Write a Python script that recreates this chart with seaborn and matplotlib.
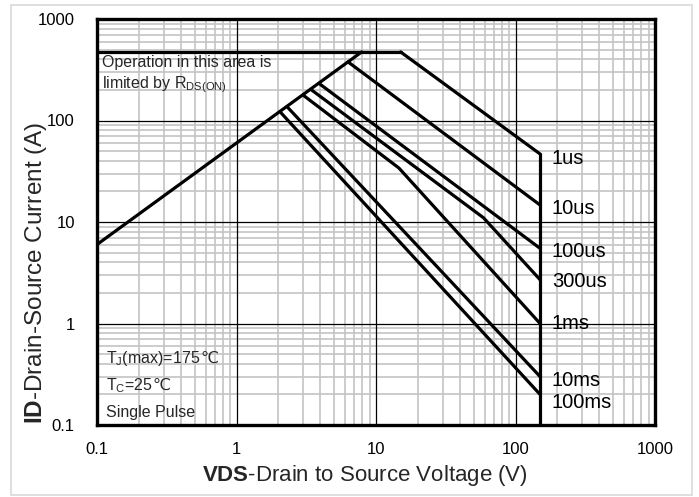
import matplotlib
matplotlib.use("Agg")
import matplotlib.pyplot as plt
import numpy as np
import pandas as pd
import seaborn as sns
from matplotlib.ticker import LogLocator, NullFormatter, FixedLocator, FixedFormatter
from matplotlib.patches import Rectangle

# ---------------- data ----------------
v_rds = [0.1, 7.9]          # RDS(on) limit line
i_rds = [6.0, 474]
v_cap = [0.1, 15]           # package current limit
i_cap = [474, 474]
v_1us = [15, 150]
i_1us = [474, 46.8]
v_10us = [6.3, 150]
i_10us = [378, 14.7]
v_100us = [3.9, 150]
i_100us = [232, 5.5]
v_300us = [3.4, 59, 150]
i_300us = [203, 11.0, 2.7]
v_1ms = [3.0, 14.6, 150]
i_1ms = [178, 34, 1.0]
v_10ms = [2.3, 150]
i_10ms = [137, 0.30]
v_100ms = [2.05, 150]
i_100ms = [122, 0.20]
v_max = [150, 150]          # VDS max
i_max = [46.8, 0.1]

pulse_labels = ["1us", "10us", "100us", "300us", "1ms", "10ms", "100ms"]
x_ticks = [0.1, 1, 10, 100, 1000]
x_tick_labels = ["0.1", "1", "10", "100", "1000"]
y_ticks = [0.1, 1, 10, 100, 1000]
y_tick_labels = ["0.1", "1", "10", "100", "1000"]

curves = {
    "rds": (v_rds, i_rds),
    "cap": (v_cap, i_cap),
    "1us": (v_1us, i_1us),
    "10us": (v_10us, i_10us),
    "100us": (v_100us, i_100us),
    "300us": (v_300us, i_300us),
    "1ms": (v_1ms, i_1ms),
    "10ms": (v_10ms, i_10ms),
    "100ms": (v_100ms, i_100ms),
    "vmax": (v_max, i_max),
}
rows = []
for name, (vs, is_) in curves.items():
    for k, (v, i) in enumerate(zip(vs, is_)):
        rows.append({"curve": name, "order": k, "V": v, "I": i})
df = pd.DataFrame(rows)

# ---------------- style ----------------
sns.set_theme(style="white")
plt.rcParams["font.family"] = ["Liberation Sans", "DejaVu Sans"]
plt.rcParams["mathtext.fontset"] = "custom"
plt.rcParams["mathtext.rm"] = "Liberation Sans"
plt.rcParams["mathtext.it"] = "Liberation Sans:italic"
plt.rcParams["mathtext.bf"] = "Liberation Sans:bold"

W, H = 699, 497
fig = plt.figure(figsize=(W / 100, H / 100), dpi=100)
fig.patch.set_facecolor("white")
ax = fig.add_axes([97 / W, 1 - 425 / H, (655 - 97) / W, (425 - 19) / H])

# figure border
fig.patches.append(Rectangle((11 / W, 1 - 495 / H), (692 - 11) / W, (495 - 5) / H,
                             transform=fig.transFigure, fill=False,
                             edgecolor="#d9d9d9", lw=1.2))

sns.lineplot(data=df, x="V", y="I", units="curve", estimator=None, sort=False,
             color="black", lw=2.3, ax=ax, legend=False, zorder=3)

ax.set_xscale("log")
ax.set_yscale("log")
ax.set_xlim(0.1, 1000)
ax.set_ylim(0.1, 1000)

ax.xaxis.set_major_locator(FixedLocator(x_ticks))
ax.xaxis.set_major_formatter(FixedFormatter(x_tick_labels))
ax.yaxis.set_major_locator(FixedLocator(y_ticks))
ax.yaxis.set_major_formatter(FixedFormatter(y_tick_labels))
ax.xaxis.set_minor_locator(LogLocator(base=10, subs=np.arange(2, 10), numticks=20))
ax.yaxis.set_minor_locator(LogLocator(base=10, subs=np.arange(2, 10), numticks=20))
ax.xaxis.set_minor_formatter(NullFormatter())
ax.yaxis.set_minor_formatter(NullFormatter())

# light minor grid below, black decade grid on top of it
ax.set_axisbelow(True)
ax.grid(which="minor", color="#c4c4c4", lw=1.2)
ax.grid(which="major", visible=False)
for t in x_ticks[1:-1]:
    ax.axvline(t, color="black", lw=0.9, zorder=1)
for t in y_ticks[1:-1]:
    ax.axhline(t, color="black", lw=0.9, zorder=1)

ax.tick_params(which="both", length=0)
ax.tick_params(axis="x", labelsize=12, pad=12, colors="black")
ax.tick_params(axis="y", labelsize=12, pad=16, colors="black")
for s in ax.spines.values():
    s.set_visible(True)
    s.set_color("black")
    s.set_linewidth(2.4)
    s.set_zorder(4)
ax.set_xlabel("")
ax.set_ylabel("")

fig.text(365 / W, 1 - 475 / H, r"$\mathbf{VDS}$-Drain to Source Voltage (V)",
         ha="center", va="center", fontsize=16)
fig.text(36 / W, 1 - 273 / H, r"$\mathbf{ID}$-Drain-Source Current (A)",
         ha="center", va="center", rotation=90, fontsize=17.5)

# curve labels at the end of each pulse line
ends = {"1us": i_1us[-1], "10us": i_10us[-1], "100us": i_100us[-1],
        "300us": i_300us[-1], "1ms": i_1ms[-1], "10ms": i_10ms[-1],
        "100ms": i_100ms[-1]}
dy = {"1us": -3, "10us": -2.5, "100us": -2, "300us": -1.5, "1ms": 0,
      "10ms": -2.5, "100ms": -6}
for lab in pulse_labels:
    ax.annotate(lab, xy=(v_max[0], ends[lab]), xytext=(8.5, dy[lab]),
                textcoords="offset points", ha="left", va="center",
                fontsize=14.5, color="black", zorder=5)

fs = 11.5
ax.text(0.009, 0.892, "Operation in this area is", transform=ax.transAxes,
        ha="left", va="center", fontsize=fs, zorder=5)
ax.text(0.009, 0.837, r"limited by R$_{\mathrm{DS(ON)}}$", transform=ax.transAxes,
        ha="left", va="center", fontsize=fs, zorder=5)

# temperature notes: mathtext part + plain part holding the Celsius sign
t1 = ax.text(0.016, 0.152, r"T$_{\mathrm{J}}$(max)=175", transform=ax.transAxes,
             ha="left", va="baseline", fontsize=fs, zorder=5)
ax.annotate("℃", xy=(1, 0.152), xycoords=(t1, "axes fraction"),
            ha="left", va="baseline", fontsize=fs, zorder=5,
            family=["DejaVu Sans"])
t2 = ax.text(0.016, 0.086, r"T$_{\mathrm{C}}$=25", transform=ax.transAxes,
             ha="left", va="baseline", fontsize=fs, zorder=5)
ax.annotate("℃", xy=(1, 0.086), xycoords=(t2, "axes fraction"),
            ha="left", va="baseline", fontsize=fs, zorder=5,
            family=["DejaVu Sans"])
ax.text(0.016, 0.032, "Single Pulse", transform=ax.transAxes,
        ha="left", va="center", fontsize=fs, zorder=5)

fig.savefig("out.png", dpi=100, facecolor="white")
